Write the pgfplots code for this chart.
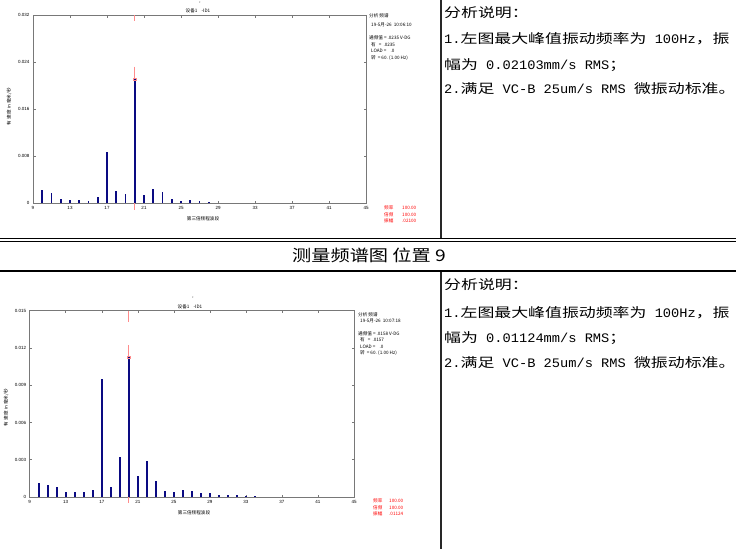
\documentclass[border=0pt]{standalone}
\usepackage{fontspec}
\usepackage{graphicx}
\usepackage{pgfplots}
\pgfplotsset{compat=1.18}
\setmainfont{Liberation Sans}
\newfontfamily\cjk{Noto Sans CJK SC}
\newfontfamily\latfont{Liberation Mono}
\definecolor{barblue}{RGB}{10,10,130}
\definecolor{cursor}{RGB}{255,140,140}
\definecolor{axgray}{RGB}{120,120,120}
\definecolor{rulegray}{RGB}{40,40,40}
% half-width latin inside the panel text
\newcommand\lat[1]{\scalebox{0.81}[1]{\latfont #1}}
% panel line
\newcommand\pl[1]{\scalebox{1.30}[1]{\fontsize{13bp}{15bp}\selectfont\cjk #1}}
% small chart text
\newcommand\sm{\fontsize{4.6bp}{5.5bp}\selectfont\cjk}

\pgfplotsset{
  spec/.style={
    scale only axis,
    anchor=south west,
    clip=false,
    xmin=9, xmax=45, ymin=0,
    xtick={9,13,...,45},
    scaled y ticks=false,
    axis line style={axgray, line width=0.6bp},
    tick style={axgray, line width=0.5bp},
    major tick length=2.5bp,
    tick align=inside,
    ticklabel style={font=\fontsize{4.5bp}{5bp}\selectfont},
    /pgf/number format/assume math mode=true,
  },
  bars/.style={ycomb, barblue, line width=1.6bp, mark=none},
  cur/.style={cursor, line width=0.8bp, mark=none},
}

\begin{document}
\begin{tikzpicture}
\begin{scope}[x=1bp,y=-1bp]
  \path[use as bounding box] (0,0) rectangle (736,549);
  % table rules
  \draw[rulegray, line width=1.2bp] (441,0) -- (441,239);
  \draw[rulegray, line width=1.2bp] (441,271) -- (441,549);
  \draw[black, line width=1.4bp] (0,238.5) -- (736,238.5);
  \draw[black, line width=0.8bp] (0,241.2) -- (736,241.2);
  \draw[black, line width=1.1bp] (0,271) -- (736,271);
  % section title
  \node at (369,255) {\scalebox{1.2}[1]{\fontsize{16bp}{18bp}\selectfont\cjk 测量频谱图 位置 9}};
  % right panels
  \foreach \dy in {0,272}{
    \node[anchor=base west, inner sep=0] at (444,18+\dy) {\pl{分析说明：}};
  }
  \node[anchor=base west, inner sep=0] at (444,44) {\pl{\lat{1.}左图最大峰值振动频率为\lat{ 100Hz}，振}};
  \node[anchor=base west, inner sep=0] at (444,70) {\pl{幅为\lat{ 0.02103mm/s RMS}；}};
  \node[anchor=base west, inner sep=0] at (444,94) {\pl{\lat{2.}满足\lat{ VC-B 25um/s RMS }微振动标准。}};
  \node[anchor=base west, inner sep=0] at (444,317) {\pl{\lat{1.}左图最大峰值振动频率为\lat{ 100Hz}，振}};
  \node[anchor=base west, inner sep=0] at (444,342) {\pl{幅为\lat{ 0.01124mm/s RMS}；}};
  \node[anchor=base west, inner sep=0] at (444,367) {\pl{\lat{2.}满足\lat{ VC-B 25um/s RMS }微振动标准。}};

  % chart 1 texts
  \node[inner sep=0] at (200,4) {\sm '};
  \node[inner sep=0] at (198,11) {\sm 设备1 \ \ \ -ID1};
  \node[inner sep=0] at (203,219) {\sm 第三倍频程波段};
  \node[inner sep=0, rotate=90] at (9,107) {\sm 有\ \ 速度 in 毫米/秒};
  \begin{scope}[every node/.style={anchor=west, inner sep=0}]
    \node at (369,16) {\sm 分析 频谱};
    \node at (371,24.5) {\sm 19-5月-26\ \ 10:06:10};
    \node at (369,38) {\sm 通频值 = .0235 V-DG};
    \node at (371,44.5) {\sm 有\ \ \ = \ .0235};
    \node at (371,51) {\sm LOAD = \ \ \ .0};
    \node at (371,58) {\sm 转\ \ = 60. (1.00 Hz)};
    \node[red] at (384,208) {\sm 频率};
    \node[red] at (402,208) {\sm 100.00};
    \node[red] at (384,214.5) {\sm 倍频};
    \node[red] at (402,214.5) {\sm 100.00};
    \node[red] at (384,221) {\sm 振幅};
    \node[red] at (402,221) {\sm .02100};
  \end{scope}

  % chart 2 texts
  \node[inner sep=0] at (193,299) {\sm '};
  \node[inner sep=0] at (190,306.7) {\sm 设备1 \ \ \ -ID1};
  \node[inner sep=0] at (194,512.5) {\sm 第三倍频程波段};
  \node[inner sep=0, rotate=90] at (6,408) {\sm 有\ \ 速度 in 毫米/秒};
  \begin{scope}[every node/.style={anchor=west, inner sep=0}]
    \node at (358,314.3) {\sm 分析 频谱};
    \node at (360,321) {\sm 19-5月-26\ \ 10:07:18};
    \node at (358,333.7) {\sm 通频值 = .0158 V-DG};
    \node at (360,340) {\sm 有\ \ \ = \ .0157};
    \node at (360,346.7) {\sm LOAD = \ \ \ .0};
    \node at (360,353) {\sm 转\ \ = 60. (1.00 Hz)};
    \node[red] at (373,501) {\sm 频率};
    \node[red] at (389,501) {\sm 100.00};
    \node[red] at (373,507.5) {\sm 倍频};
    \node[red] at (389,507.5) {\sm 100.00};
    \node[red] at (373,514) {\sm 振幅};
    \node[red] at (389,514) {\sm .01124};
  \end{scope}
\end{scope}

% chart 1
\begin{axis}[spec,
  at={(33bp,-203bp)}, width=333bp, height=188bp,
  ymax=0.032,
  ytick={0,0.008,0.016,0.024,0.032},
  yticklabels={0,0.008,0.016,0.024,0.032},
]
  \addplot[cur] coordinates {(20,0.032) (20,0.0309)};
  \addplot[cur] coordinates {(20,0.0232) (20,0.0210)};
  \addplot[cur] coordinates {(20,0.0010) (20,-0.0012)};
  \addplot[bars] coordinates {
    (10,0.0022) (11,0.0017) (12,0.0007) (13,0.0005) (14,0.00045)
    (15,0.0004) (16,0.0010) (17,0.00868) (18,0.0020) (19,0.0015)
    (20,0.02103) (21,0.0014) (22,0.0024) (23,0.0018) (24,0.0007)
    (25,0.0003) (26,0.00045) (27,0.00034) (28,0.00017)
  };
  \addplot[cursor, only marks, mark=square, mark size=1.1bp, line width=0.5bp]
    coordinates {(20,0.02103)};
\end{axis}

% chart 2
\begin{axis}[spec,
  at={(29.7bp,-497bp)}, width=324.3bp, height=186.3bp,
  ymax=0.015,
  ytick={0,0.003,0.006,0.009,0.012,0.015},
  yticklabels={0,0.003,0.006,0.009,0.012,0.015},
]
  \addplot[cur] coordinates {(20,0.015) (20,0.0141)};
  \addplot[cur] coordinates {(20,0.0122) (20,0.01124)};
  \addplot[cur] coordinates {(20,0.00056) (20,-0.00048)};
  \addplot[bars] coordinates {
    (10,0.00115) (11,0.00094) (12,0.00083) (13,0.0004) (14,0.0004)
    (15,0.0004) (16,0.00059) (17,0.0095) (18,0.00083) (19,0.00325)
    (20,0.01124) (21,0.00166) (22,0.0029) (23,0.00126) (24,0.00048)
    (25,0.0004) (26,0.00059) (27,0.00046) (28,0.00032) (29,0.0003)
    (30,0.00016) (31,0.00016) (32,0.00016) (33,0.00008) (34,0.00005)
  };
  \addplot[cursor, only marks, mark=square, mark size=1.1bp, line width=0.5bp]
    coordinates {(20,0.01124)};
\end{axis}
\end{tikzpicture}
\end{document}
